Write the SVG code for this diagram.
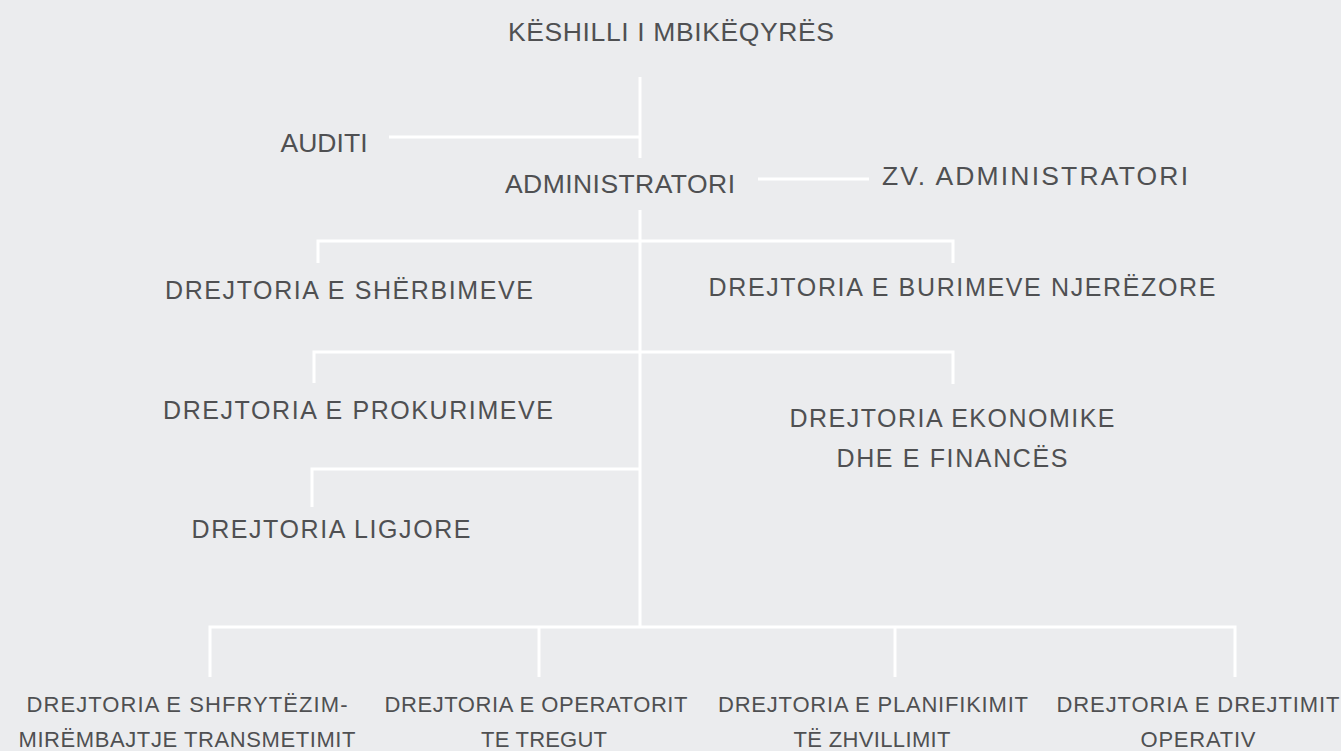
<svg xmlns="http://www.w3.org/2000/svg" width="1341" height="751" viewBox="0 0 1341 751">
<style>
text{font-family:"Liberation Sans",Arial,sans-serif;fill:#4f5052;text-anchor:middle}
.a{font-size:26.5px}
.b{font-size:25px}
.c{font-size:22px}
.ln{fill:none;stroke:#ffffff;stroke-width:3}
</style>
<rect x="0" y="0" width="1341" height="751" fill="#ebecee"/>
<g id="connectors" class="ln">
<path d="M640 77V158"/>
<path d="M389 137H640"/>
<path d="M758 179H869"/>
<path d="M640 210V627"/>
<path d="M318 263V241H953V263"/>
<path d="M314 383V352H953V384"/>
<path d="M312 507V469H640"/>
<path d="M210 677V627H1235V677"/>
<path d="M539 627V677"/>
<path d="M895 627V677"/>
</g>
<g id="keshilli"><text class="a" x="671" y="41" textLength="326" lengthAdjust="spacing">KËSHILLI I MBIKËQYRËS</text></g>
<g id="auditi"><text class="a" x="324" y="152" textLength="87" lengthAdjust="spacing">AUDITI</text></g>
<g id="administratori"><text class="a" x="620" y="193" textLength="230" lengthAdjust="spacing">ADMINISTRATORI</text></g>
<g id="zv-administratori"><text class="a" x="1035" y="185" textLength="306" lengthAdjust="spacing">ZV. ADMINISTRATORI</text></g>
<g id="sherbimeve"><text class="b" x="349" y="299" textLength="368" lengthAdjust="spacing">DREJTORIA E SHËRBIMEVE</text></g>
<g id="burimeve"><text class="b" x="962" y="296" textLength="507" lengthAdjust="spacing">DREJTORIA E BURIMEVE NJERËZORE</text></g>
<g id="prokurimeve"><text class="b" x="358" y="419" textLength="390" lengthAdjust="spacing">DREJTORIA E PROKURIMEVE</text></g>
<g id="ekonomike"><text class="b" x="952" y="427" textLength="325" lengthAdjust="spacing">DREJTORIA EKONOMIKE</text><text class="b" x="952" y="467" textLength="231" lengthAdjust="spacing">DHE E FINANCËS</text></g>
<g id="ligjore"><text class="b" x="331" y="538" textLength="279" lengthAdjust="spacing">DREJTORIA LIGJORE</text></g>
<g id="shfrytezim"><text class="c" x="187" y="712" textLength="321" lengthAdjust="spacing">DREJTORIA E SHFRYTËZIM-</text><text class="c" x="187" y="747" textLength="337" lengthAdjust="spacing">MIRËMBAJTJE TRANSMETIMIT</text></g>
<g id="operatorit"><text class="c" x="536" y="712" textLength="303" lengthAdjust="spacing">DREJTORIA E OPERATORIT</text><text class="c" x="544" y="747" textLength="126" lengthAdjust="spacing">TE TREGUT</text></g>
<g id="planifikimit"><text class="c" x="873" y="712" textLength="310" lengthAdjust="spacing">DREJTORIA E PLANIFIKIMIT</text><text class="c" x="872" y="747" textLength="157" lengthAdjust="spacing">TË ZHVILLIMIT</text></g>
<g id="drejtimit"><text class="c" x="1198" y="712" textLength="283" lengthAdjust="spacing">DREJTORIA E DREJTIMIT</text><text class="c" x="1198" y="747" textLength="115" lengthAdjust="spacing">OPERATIV</text></g>
</svg>
